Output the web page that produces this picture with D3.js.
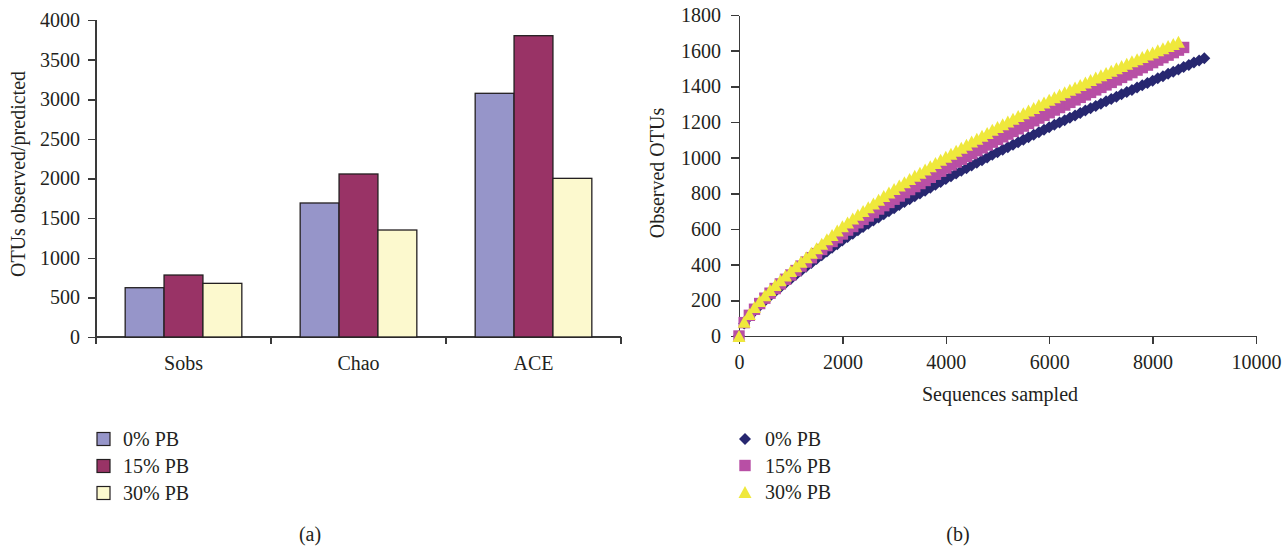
<!DOCTYPE html>
<html>
<head>
<meta charset="utf-8">
<script src="https://cdn.jsdelivr.net/npm/d3@7"></script>
<style>
  body { margin: 0; background: #fff; }
  svg text { font-family: 'Liberation Serif', 'Times New Roman', serif; fill: #231f20; }
  .axis path, .axis line { stroke: #3a3a3a; stroke-width: 1.5; shape-rendering: crispEdges; }
</style>
</head>
<body>
<script>
// (a) bar chart data
const categories = ['Sobs', 'Chao', 'ACE']
const groups = ['0% PB', '15% PB', '30% PB']
const pb0 = [622, 1691, 3075]
const pb15 = [782, 2057, 3802]
const pb30 = [677, 1350, 2002]
const barTicks = [0, 500, 1000, 1500, 2000, 2500, 3000, 3500, 4000]

// (b) rarefaction curves, one point every 100 sequences
const sequences = [0, 100, 200, 300, 400, 500, 600, 700, 800, 900, 1000, 1100, 1200, 1300, 1400, 1500, 1600, 1700, 1800, 1900,
  2000, 2100, 2200, 2300, 2400, 2500, 2600, 2700, 2800, 2900, 3000, 3100, 3200, 3300, 3400, 3500, 3600, 3700, 3800, 3900,
  4000, 4100, 4200, 4300, 4400, 4500, 4600, 4700, 4800, 4900, 5000, 5100, 5200, 5300, 5400, 5500, 5600, 5700, 5800, 5900,
  6000, 6100, 6200, 6300, 6400, 6500, 6600, 6700, 6800, 6900, 7000, 7100, 7200, 7300, 7400, 7500, 7600, 7700, 7800, 7900,
  8000, 8100, 8200, 8300, 8400, 8500, 8600, 8700, 8800, 8900, 9000]
const otus0 = [0, 70, 108, 140, 170, 198, 224, 249, 273, 297,
  320, 343, 366, 388, 410, 432, 453, 474, 495, 515,
  535, 555, 574, 593, 611, 629, 647, 665, 683, 700,
  717, 734, 751, 767, 783, 799, 815, 832, 848, 864,
  880, 896, 911, 926, 941, 956, 971, 986, 1001, 1016,
  1030, 1044, 1058, 1072, 1086, 1100, 1114, 1128, 1142, 1156,
  1170, 1184, 1197, 1210, 1224, 1237, 1250, 1264, 1277, 1290,
  1303, 1316, 1329, 1342, 1355, 1368, 1380, 1393, 1406, 1419,
  1432, 1445, 1457, 1470, 1482, 1495, 1508, 1520, 1533, 1545,
  1558]
const otus15 = [0, 75, 116, 150, 182, 212, 240, 266, 292, 318,
  342, 367, 392, 415, 439, 462, 485, 507, 530, 551,
  572, 594, 614, 635, 654, 673, 692, 712, 731, 749,
  767, 785, 804, 821, 838, 855, 872, 890, 907, 924,
  942, 959, 975, 991, 1007, 1023, 1039, 1055, 1071, 1087,
  1102, 1117, 1132, 1147, 1162, 1177, 1192, 1207, 1222, 1237,
  1252, 1267, 1281, 1295, 1310, 1324, 1338, 1352, 1366, 1380,
  1394, 1408, 1422, 1436, 1450, 1464, 1477, 1491, 1505, 1519,
  1533, 1547, 1561, 1575, 1589, 1603, 1618]
const otus30 = [0, 80, 124, 162, 196, 228, 258, 286, 313, 339,
  365, 391, 417, 442, 467, 492, 517, 542, 566, 591,
  615, 637, 659, 680, 701, 722, 743, 764, 785, 805,
  825, 844, 862, 880, 898, 916, 934, 952, 970, 988,
  1005, 1022, 1039, 1056, 1073, 1090, 1106, 1123, 1139, 1156,
  1172, 1188, 1203, 1218, 1234, 1249, 1264, 1279, 1295, 1310,
  1325, 1339, 1353, 1367, 1381, 1394, 1408, 1422, 1435, 1449,
  1462, 1475, 1488, 1501, 1514, 1527, 1540, 1552, 1565, 1578,
  1590, 1602, 1614, 1626, 1638, 1650]
const otuTicks = [0, 200, 400, 600, 800, 1000, 1200, 1400, 1600, 1800]
const seqTicks = [0, 2000, 4000, 6000, 8000, 10000]

const barColors = ['#9695c9', '#993366', '#fcf9ce']
const curveColors = ['#272770', '#b84fa5', '#efe83c']

const svg = d3.select('body').append('svg').attr('width', 1288).attr('height', 547)

function BarChart (g) {
  const x0 = d3.scaleBand().domain(categories).range([96, 621]).padding(0)
  const x1 = d3.scaleBand().domain(groups).range([0, x0.bandwidth()]).paddingInner(0).paddingOuter(0.75)
  const y = d3.scaleLinear().domain([0, 4000]).range([337, 20])
  const series = [pb0, pb15, pb30]

  const yAxis = g.append('g').attr('class', 'axis')
    .attr('transform', 'translate(96,0)')
    .call(d3.axisLeft(y).tickValues(barTicks).tickSize(8).tickSizeOuter(0).tickPadding(8).tickFormat(d3.format('d')))
  yAxis.selectAll('text').style('font-size', '20px')
  yAxis.select('.domain').attr('d', 'M0,20V344')

  const xAxis = g.append('g').attr('class', 'axis')
  xAxis.append('line').attr('x1', 96).attr('x2', 621).attr('y1', 337).attr('y2', 337)
  xAxis.selectAll('line.tick').data(categories).enter().append('line')
    .attr('class', 'tick')
    .attr('x1', d => x0(d) + x0.bandwidth()).attr('x2', d => x0(d) + x0.bandwidth())
    .attr('y1', 337).attr('y2', 344)
  xAxis.selectAll('text').data(categories).enter().append('text')
    .attr('x', d => x0(d) + x0.bandwidth() / 2)
    .attr('y', 370)
    .attr('text-anchor', 'middle')
    .style('font-size', '20px')
    .text(d => d)

  const grp = g.selectAll('g.grp').data(categories).enter().append('g')
    .attr('class', 'grp')
    .attr('transform', d => 'translate(' + x0(d) + ',0)')
  grp.selectAll('rect')
    .data((c, ci) => groups.map((s, si) => ({ s, si, v: series[si][ci] })))
    .enter().append('rect')
    .attr('x', d => x1(d.s))
    .attr('width', x1.bandwidth())
    .attr('y', d => y(d.v))
    .attr('height', d => y(0) - y(d.v))
    .attr('fill', d => barColors[d.si])
    .attr('stroke', '#231f20')
    .attr('stroke-width', 1.3)

  g.append('text')
    .attr('transform', 'translate(25,174) rotate(-90)')
    .attr('text-anchor', 'middle')
    .style('font-size', '20px')
    .text('OTUs observed/predicted')

  const legend = g.selectAll('g.leg').data(groups).enter().append('g')
    .attr('class', 'leg')
    .attr('transform', (d, i) => 'translate(97,' + (439 + i * 27) + ')')
  legend.append('rect')
    .attr('x', 0).attr('y', -6.5).attr('width', 13).attr('height', 13)
    .attr('fill', (d, i) => barColors[i])
    .attr('stroke', '#231f20').attr('stroke-width', 1.2)
  legend.append('text')
    .attr('x', 26).attr('dy', '0.35em')
    .style('font-size', '20px')
    .text(d => d)

  g.append('text').attr('x', 310).attr('y', 541).attr('text-anchor', 'middle')
    .style('font-size', '20px').text('(a)')
}

function diamond (r) {
  return 'M0,' + (-r) + 'L' + r + ',0L0,' + r + 'L' + (-r) + ',0Z'
}
function square (r) {
  return 'M' + (-r) + ',' + (-r) + 'H' + r + 'V' + r + 'H' + (-r) + 'Z'
}
function triangle (r) {
  return 'M0,' + (-r) + 'L' + (r + 0.5) + ',' + r + 'H' + (-r - 0.5) + 'Z'
}
const shapes = [diamond(6), square(5.7), triangle(6)]

function CurveChart (g) {
  const x = d3.scaleLinear().domain([0, 10000]).range([739, 1256])
  const y = d3.scaleLinear().domain([0, 1800]).range([336, 15])

  const yAxis = g.append('g').attr('class', 'axis')
    .attr('transform', 'translate(739,0)')
    .call(d3.axisLeft(y).tickValues(otuTicks).tickSize(8).tickSizeOuter(0).tickPadding(10).tickFormat(d3.format('d')))
  yAxis.selectAll('text').style('font-size', '20px')

  const xAxis = g.append('g').attr('class', 'axis')
    .attr('transform', 'translate(0,336)')
    .call(d3.axisBottom(x).tickValues(seqTicks).tickSize(8).tickSizeOuter(0).tickPadding(11).tickFormat(d3.format('d')))
  xAxis.selectAll('text').style('font-size', '20px')

  const series = [otus0, otus15, otus30]
  series.forEach((vals, si) => {
    g.append('g').selectAll('path').data(vals).enter().append('path')
      .attr('d', shapes[si])
      .attr('transform', (v, i) => 'translate(' + x(sequences[i]) + ',' + y(v) + ')')
      .attr('fill', curveColors[si])
  })

  g.append('text')
    .attr('transform', 'translate(664,173) rotate(-90)')
    .attr('text-anchor', 'middle')
    .style('font-size', '20px')
    .text('Observed OTUs')
  g.append('text').attr('x', 1000).attr('y', 401).attr('text-anchor', 'middle')
    .style('font-size', '20px').text('Sequences sampled')

  const legend = g.selectAll('g.leg').data(groups).enter().append('g')
    .attr('class', 'leg')
    .attr('transform', (d, i) => 'translate(745,' + (439 + i * 26.5) + ')')
  legend.append('path')
    .attr('d', (d, i) => shapes[i])
    .attr('fill', (d, i) => curveColors[i])
  legend.append('text')
    .attr('x', 20).attr('dy', '0.35em')
    .style('font-size', '20px')
    .text(d => d)

  g.append('text').attr('x', 958).attr('y', 541).attr('text-anchor', 'middle')
    .style('font-size', '20px').text('(b)')
}

BarChart(svg.append('g'))
CurveChart(svg.append('g'))
</script>
</body>
</html>
